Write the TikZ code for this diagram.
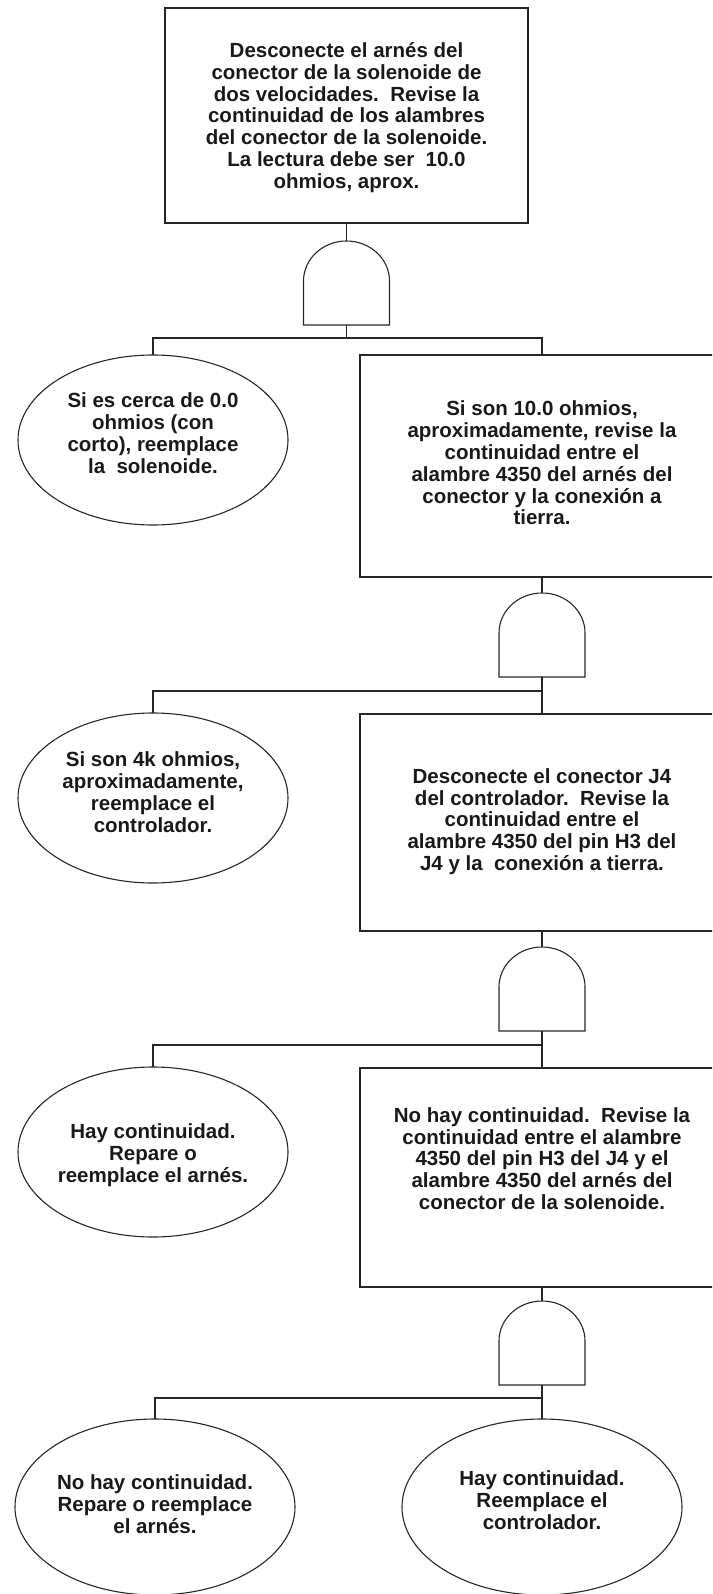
\documentclass[tikz,border=0pt]{standalone}
\usepackage{fontspec}
\setmainfont{Liberation Sans}
\usetikzlibrary{shapes.geometric}
\newcommand{\ttab}[2][0pt]{\raisebox{#1}[\height][\depth]{\begin{tabular}{@{}c@{}}#2\end{tabular}}}
\begin{document}
\begin{tikzpicture}[x=1pt,y=-1pt,
  conn/.style={line width=1.1pt,draw=black!85},
  txt/.style={font=\fontsize{20.5}{21.8}\selectfont\bfseries,text=black!90},
  stepbox/.style={conn,rectangle,inner sep=0pt,outer sep=0pt,txt},
  endell/.style={conn,ellipse,inner sep=0pt,outer sep=0pt,txt,minimum width=270,minimum height=170},
  andgate/.pic={
    \draw[conn] (-43,84) -- (-43,40) arc[start angle=180,end angle=360,x radius=43,y radius=40] -- (43,84) -- cycle;
    \coordinate (-top) at (0,0);
    \coordinate (-bot) at (0,84);
  }]
\useasboundingbox (0,0) rectangle (712,1594);
\clip (0,0) rectangle (712,1594);

% level 1
\node[stepbox,minimum width=363,minimum height=215] (b1) at (346.5,115.5)
  {\ttab[-3pt]{Desconecte el arnés del\\conector de la solenoide de\\dos velocidades.\ \ Revise la\\continuidad de los alambres\\del conector de la solenoide.\\La lectura debe ser\ \ 10.0\\ohmios, aprox.}};
\pic (g1) at (346.5,241) {andgate};
\coordinate (j1) at (346.5,338);

\node[endell] (e1) at (153,440)
  {\ttab[4pt]{Si es cerca de 0.0\\ohmios (con\\corto), reemplace\\la\ \ solenoide.}};
\node[stepbox,minimum width=364,minimum height=222] (b2) at (542,466)
  {\ttab{Si son 10.0 ohmios,\\aproximadamente, revise la\\continuidad entre el\\alambre 4350 del arnés del\\conector y la conexión a\\tierra.}};
\pic (g2) at (542,593) {andgate};
\coordinate (j2) at (542,691);

% level 3
\node[endell] (e2) at (153,798)
  {\ttab[3pt]{Si son 4k ohmios,\\aproximadamente,\\reemplace el\\controlador.}};
\node[stepbox,minimum width=364,minimum height=217] (b3) at (542,822.5)
  {\ttab{Desconecte el conector J4\\del controlador.\ \ Revise la\\continuidad entre el\\alambre 4350 del pin H3 del\\J4 y la\ \ conexión a tierra.}};
\pic (g3) at (542,947) {andgate};
\coordinate (j3) at (542,1045);

% level 4
\node[endell] (e3) at (153,1152)
  {\ttab[-4pt]{Hay continuidad.\\Repare o\\reemplace el arnés.}};
\node[stepbox,minimum width=364,minimum height=219] (b4) at (542,1177.5)
  {\ttab[16pt]{No hay continuidad.\ \ Revise la\\continuidad entre el alambre\\4350 del pin H3 del J4 y el\\alambre 4350 del arnés del\\conector de la solenoide.}};
\pic (g4) at (542,1301) {andgate};
\coordinate (j4) at (542,1398);

% level 5
\node[endell,minimum width=280,minimum height=176] (e4) at (155,1507)
  {\ttab{No hay continuidad.\\Repare o reemplace\\el arnés.}};
\node[endell,minimum width=280,minimum height=176] (e5) at (542,1507)
  {\ttab[4pt]{Hay continuidad.\\Reemplace el\\controlador.}};

% connectors
\draw[conn] (b1.south) -- (g1-top);
\draw[conn] (g1-bot) -- (j1);
\draw[conn] (e1.north) |- (j1) -- (j1 -| b2.north) -- (b2.north);

\draw[conn] (b2.south) -- (g2-top);
\draw[conn] (g2-bot) -- (b3.north);
\draw[conn] (e2.north) |- (j2);

\draw[conn] (b3.south) -- (g3-top);
\draw[conn] (g3-bot) -- (b4.north);
\draw[conn] (e3.north) |- (j3);

\draw[conn] (b4.south) -- (g4-top);
\draw[conn] (g4-bot) -- (e5.north);
\draw[conn] (e4.north) |- (j4);
\end{tikzpicture}
\end{document}
